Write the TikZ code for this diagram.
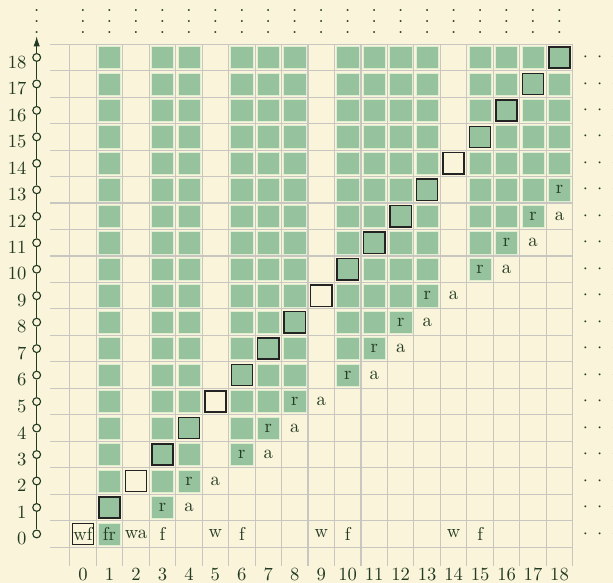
\documentclass[tikz,border=0pt]{standalone}
\usetikzlibrary{arrows.meta}
\definecolor{bgc}{RGB}{250,244,218}
\definecolor{cellg}{RGB}{150,194,158}
\definecolor{celle}{RGB}{222,238,208}
\definecolor{gridc}{RGB}{200,198,192}
\definecolor{inkc}{RGB}{33,58,33}
\definecolor{boxc}{RGB}{35,35,35}
\begin{document}
\begin{tikzpicture}[x=0.5cm,y=0.5cm,
  every node/.style={text=inkc},
  cellbox/.style={minimum size=0.4cm, inner sep=0pt, line width=0.8pt},
  gcell/.style={minimum size=0.42cm, inner sep=0pt, fill=cellg, draw=celle, line width=0.3pt},
  hcell/.style={cellbox, fill=cellg, draw=boxc},
  wcell/.style={cellbox, fill=bgc, draw=boxc},
  tcell/.style={cellbox},
  gridline/.style={draw=gridc, line width=0.6pt},
  axisline/.style={draw=inkc, line width=0.6pt},
  tickmark/.style={circle, draw=inkc, fill=bgc, line width=0.6pt, minimum size=4.2pt, inner sep=0pt},
  ticklabel/.style={anchor=east, inner sep=0pt},
  collabel/.style={inner sep=0pt},
  vdotsnode/.style={inner sep=0pt, align=center, font=\fontsize{10}{5.9}\selectfont},
  hdotsnode/.style={inner sep=0pt}]
\fill[bgc] (-3.136,-1.851) rectangle (20.02,20.17);
\useasboundingbox (-3.136,-1.851) rectangle (20.02,20.17);
% grid
\foreach \i in {0,...,19} \draw[gridline] (\i-0.5,-1.22) -- (\i-0.5,18.5);
\foreach \j in {0,...,19} \draw[gridline] (-1.25,\j-0.5) -- (18.5,\j-0.5);
% green columns
\foreach \c/\s in {1/0,3/1,4/2,6/3,7/4,8/5,10/6,11/7,12/8,13/9,15/10,16/11,17/12,18/13}{
  \foreach \r in {\s,...,18}{
    \ifnum\r=\c
      \node[hcell] (c\c-\r) at (\c,\r) {};
    \else
      \node[gcell] (c\c-\r) at (\c,\r) {};
    \fi
  }
}
% white boxes on the diagonal
\node[wcell] (w0) at (0,0) {wf};
\foreach \d in {2,5,9,14} \node[wcell] (w\d) at (\d,\d) {};
% r / a labels
\foreach \c/\s in {3/1,4/2,6/3,7/4,8/5,10/6,11/7,12/8,13/9,15/10,16/11,17/12}{
  \node[tcell] (r\c) at (\c,\s) {r};
  \pgfmathtruncatemacro{\n}{\c+1}
  \node[tcell] (a\c) at (\n,\s) {a};
}
\node[tcell] (r18) at (18,13) {r};
% row 0 labels
\node[tcell] (l1) at (1,0) {fr};
\node[tcell] (l2) at (2,0) {wa};
\foreach \c/\t in {3/f,5/w,6/f,9/w,10/f,14/w,15/f}
  \node[tcell] (l\c) at (\c,0) {\t};
% column labels
\foreach \i in {0,...,18} \node[collabel] (x\i) at (\i,-1.52) {\i};
% axis
\foreach \j in {0,...,18} {
  \node[tickmark] (t\j) at (-1.75,\j) {};
  \node[ticklabel] (y\j) at (-2.12,\j-0.18) {\j};
}
\coordinate (ttop) at (-1.75,18.8);
\foreach \j [evaluate=\j as \k using int(\j+1)] in {0,...,17}
  \draw[axisline] (t\j) -- (t\k);
\draw[axisline,-{Latex[length=5.4pt,width=3.4pt]}] (t18) -- (ttop);
% dots
\node[vdotsnode] (vd) at (-1.75,19.36) {.\\.\\.};
\foreach \i in {0,...,18} \node[vdotsnode] (vd\i) at (\i,19.36) {.\\.\\.};
\foreach \j in {0,...,18} \node[hdotsnode] (hd\j) at (19.52,\j) {$\cdot\mskip4.8mu\cdot\mskip4.8mu\cdot$};
\end{tikzpicture}
\end{document}
